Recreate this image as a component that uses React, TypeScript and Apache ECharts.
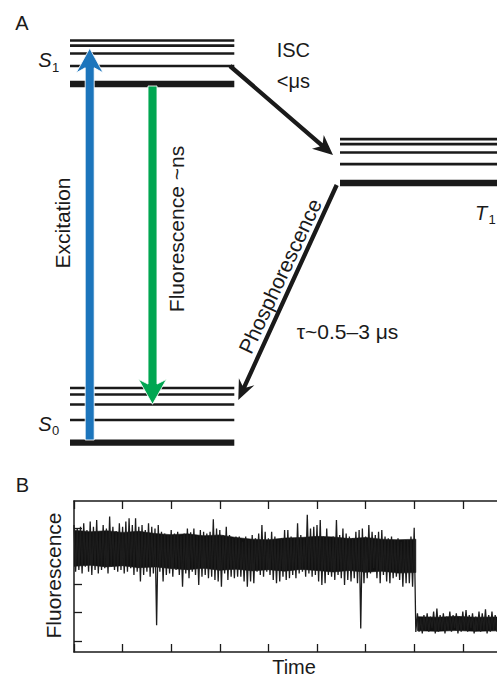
import React, { useEffect, useRef } from "react";
import * as echarts from "echarts";

// ---------- Panel A data (schematic energies, arbitrary units) ----------
const s1Levels = [429.5, 424.3, 416.5, 404, 386];
const s0Levels = [82, 75.5, 65.5, 50, 27.3];
const t1Levels = [330.8, 325.8, 317.5, 305.8, 287];

const transitionNames = ["Excitation", "Fluorescence", "ISC", "Phosphorescence"];
const transitionFrom = [
  [89.7, 30],
  [152.5, 384],
  [230, 404],
  [336.7, 285],
];
const transitionTo = [
  [89.7, 421.7],
  [152.5, 65.7],
  [333, 315],
  [238.3, 70],
];

// ---------- Panel B data (fluorescence trace envelope) ----------
const traceUpper = [
  41.0, 39.8, 40.4, 41.6, 39.2, 42.2, 40.4, 42.8, 38.6, 41.0, 39.8, 44.0, 40.4, 38.9, 41.6, 40.4, 42.2, 43.4, 41.0, 43.4, 40.4, 41.0, 39.2, 41.6, 40.4, 39.8,
  41.0, 38.6, 38.0, 37.5, 39.2, 38.0, 38.6, 37.1, 38.0, 39.8, 38.4, 39.8, 37.5, 39.2, 38.6, 38.0, 38.6, 43.0, 39.8, 39.2, 37.5, 40.4, 37.5, 36.3, 36.9, 36.9,
  35.1, 36.9, 35.7, 37.5, 36.3, 38.0, 41.0, 38.6, 36.3, 38.6, 36.9, 35.7, 36.3, 39.2, 39.2, 36.9, 36.3, 41.6, 37.5, 36.3, 44.6, 39.8, 40.4, 41.0, 42.8, 36.9,
  39.8, 36.3, 36.9, 42.8, 37.5, 39.8, 38.0, 36.9, 36.3, 38.6, 39.2, 39.8, 36.9, 41.0, 38.6, 37.5, 38.6, 39.2, 36.9, 36.3, 36.9, 35.7, 36.3, 35.1, 35.7, 35.7,
  36.9, 40.0,
  9.8, 8.0, 9.2, 9.8, 8.6, 10.4, 11.5, 9.2, 9.8, 8.6, 10.4, 9.2, 9.8, 8.6, 10.4, 10.9, 9.2, 9.8, 8.6, 10.4, 9.8, 11.2, 9.2, 10.4, 9.2,
];
const traceLower = [
  24.5, 25.1, 23.9, 26.3, 24.5, 23.3, 25.1, 23.9, 25.1, 25.7, 23.9, 26.3, 25.1, 24.5, 25.1, 23.9, 24.5, 25.7, 23.3, 24.5, 21.0, 23.3, 24.5, 22.7, 23.9, 5.6,
  24.5, 21.0, 23.3, 23.9, 22.7, 25.1, 23.3, 19.2, 23.9, 22.2, 24.5, 23.3, 19.8, 22.7, 23.3, 22.2, 22.7, 21.6, 21.0, 19.2, 23.9, 21.6, 22.7, 22.2, 22.7, 22.7,
  21.0, 19.2, 21.0, 20.4, 24.5, 23.3, 22.7, 24.5, 23.3, 21.6, 20.4, 21.0, 22.7, 21.6, 22.2, 23.3, 22.2, 23.9, 24.5, 22.7, 23.9, 22.7, 23.3, 21.0, 19.8, 20.4,
  23.3, 22.7, 21.6, 23.3, 22.2, 19.8, 21.6, 21.0, 22.2, 20.4, 4.4, 20.4, 22.2, 23.9, 25.7, 22.2, 20.4, 23.3, 21.0, 20.4, 22.2, 22.7, 21.6, 19.2, 20.4, 20.4,
  19.2, 3.2,
  3.3, 2.7, 3.9, 3.3, 4.5, 2.7, 3.3, 3.9, 2.7, 3.9, 3.3, 4.5, 2.7, 3.3, 3.9, 3.3, 4.5, 2.7, 3.9, 3.3, 3.9, 2.7, 3.3, 3.9, 3.3,
];
// dense (saturated black) core of the trace, read at coarse steps; segment 0 = bright state, 1 = dim state
const coreX = [0, 5, 10, 15, 20, 25, 30, 35, 40, 45, 50, 55, 60, 65, 70, 75, 80, 85, 90, 95, 100, 105.5, 106, 112, 118, 124, 131];
const coreTop = [39.2, 38.6, 39.0, 38.4, 38.8, 38.0, 37.6, 37.9, 37.2, 37.5, 36.6, 36.0, 35.8, 36.4, 36.6, 37.0, 36.8, 36.2, 36.6, 36.0, 35.8, 36.0, 8.6, 8.4, 8.7, 8.4, 8.5];
const coreBottom = [26.4, 26.8, 26.2, 26.6, 25.9, 26.2, 25.6, 25.2, 25.7, 25.0, 25.4, 24.8, 25.2, 24.7, 25.3, 24.9, 24.4, 24.9, 24.3, 24.7, 24.0, 24.2, 3.6, 3.4, 3.7, 3.4, 3.6];
const coreSegment = [0, 0, 0, 0, 0, 0, 0, 0, 0, 0, 0, 0, 0, 0, 0, 0, 0, 0, 0, 0, 0, 0, 1, 1, 1, 1, 1];

const fluorTicks = [0, 10, 20, 30, 40];
const timeTickInterval = 15;

// ---------- styles / layout ----------
const FONT = "'Liberation Sans', Arial, Helvetica, sans-serif";
const INK = "#1a1a1a";
const S_RANGE = [70, 234.3];
const T_RANGE = [340, 560];
const arrowStyles = [
  { color: "#1C75BC", shaft: 9, headLen: 24.5, headWid: 27, notch: 17, outline: true },
  { color: "#00A651", shaft: 9, headLen: 25, headWid: 28, notch: 18, outline: true },
  { color: INK, shaft: 4.3, headLen: 20, headWid: 18, notch: 14, outline: false },
  { color: INK, shaft: 4.3, headLen: 20, headWid: 17, notch: 13, outline: false },
];

function levelRows(levels: number[], range: number[]) {
  return levels.map((e, i) => [range[0], range[1], e, i === levels.length - 1 ? 1 : 0]);
}

function txt(text: string, x: number, y: number, size: number, opts: any = {}) {
  const font = `${opts.italic ? "italic " : ""}${size}px ${FONT}`;
  return {
    type: "text",
    x,
    y,
    rotation: opts.rotation || 0,
    silent: true,
    style: {
      text,
      font,
      fill: INK,
      textAlign: opts.align || "center",
      align: opts.align || "center",
      textVerticalAlign: "middle",
      verticalAlign: "middle",
    },
  };
}

export default function App() {
  const ref = useRef<HTMLDivElement>(null);

  useEffect(() => {
    if (!ref.current) return;
    const chart = echarts.init(ref.current, undefined, { renderer: "svg" });

    const levelData = [
      ...levelRows(s1Levels, S_RANGE),
      ...levelRows(s0Levels, S_RANGE),
      ...levelRows(t1Levels, T_RANGE),
    ];
    const arrowData = transitionFrom.map((f, i) => [f[0], f[1], transitionTo[i][0], transitionTo[i][1]]);

    const traceData: number[][] = [];
    for (let i = 0; i < traceUpper.length; i++) {
      traceData.push([i, traceUpper[i]]);
      traceData.push([i + 0.5, traceLower[i]]);
    }
    const coreData = coreX.map((x, i) => [x, coreTop[i], coreBottom[i], coreSegment[i]]);

    const renderLevel = (params: any, api: any) => {
      const a = api.coord([api.value(0), api.value(2)]);
      const b = api.coord([api.value(1), api.value(2)]);
      const t = api.value(3) ? 6.3 : 2.7;
      return {
        type: "rect",
        shape: { x: a[0], y: a[1] - t / 2, width: b[0] - a[0], height: t },
        style: { fill: INK },
      };
    };

    const renderCore = (params: any, api: any) => {
      const i = params.dataIndex;
      if (i >= coreData.length - 1) return null;
      const a = coreData[i];
      const b = coreData[i + 1];
      if (a[3] !== b[3]) return null;
      const points = [
        api.coord([a[0], a[1]]),
        api.coord([b[0], b[1]]),
        api.coord([b[0], b[2]]),
        api.coord([a[0], a[2]]),
      ];
      return {
        type: "polygon",
        shape: { points },
        style: { fill: "#111", stroke: "#111", lineWidth: 0.6 },
      };
    };

    const renderArrow = (params: any, api: any) => {
      const st = arrowStyles[params.dataIndex];
      const p1 = api.coord([api.value(0), api.value(1)]);
      const p2 = api.coord([api.value(2), api.value(3)]);
      const dx = p2[0] - p1[0];
      const dy = p2[1] - p1[1];
      const len = Math.hypot(dx, dy);
      const ux = dx / len, uy = dy / len;
      const nx = -uy, ny = ux;
      const hw = st.shaft / 2, HW = st.headWid / 2;
      const neck = st.headLen - (st.headLen - st.notch) * (1 - st.shaft / st.headWid);
      const pt = (d: number, o: number) => [p2[0] - ux * d + nx * o, p2[1] - uy * d + ny * o];
      const points = [
        [p1[0] + nx * hw, p1[1] + ny * hw],
        pt(neck, hw),
        pt(st.headLen, HW),
        [p2[0], p2[1]],
        pt(st.headLen, -HW),
        pt(neck, -hw),
        [p1[0] - nx * hw, p1[1] - ny * hw],
      ];
      return {
        type: "polygon",
        shape: { points },
        style: {
          fill: st.color,
          stroke: st.outline ? "rgba(255,255,255,0.85)" : null,
          lineWidth: st.outline ? 1 : 0,
        },
      };
    };

    const boxAxis = {
      axisLine: { show: true, onZero: false, lineStyle: { color: INK, width: 1.5 } },
      axisTick: { show: true, inside: true, length: 8, lineStyle: { color: INK, width: 1.3 } },
      axisLabel: { show: false },
      splitLine: { show: false },
    };

    chart.setOption({
      animation: false,
      textStyle: { fontFamily: FONT },
      grid: [
        { left: 0, top: 0, width: 497, height: 470 },
        { left: 74, top: 501, width: 453.6, height: 151 },
      ],
      xAxis: [
        { gridIndex: 0, type: "value", min: 0, max: 497, show: false },
        { gridIndex: 1, type: "value", min: 0, max: 140, interval: timeTickInterval, position: "bottom", ...boxAxis },
        { gridIndex: 1, type: "value", min: 0, max: 140, interval: timeTickInterval, position: "top", ...boxAxis },
      ],
      yAxis: [
        { gridIndex: 0, type: "value", min: 0, max: 470, show: false },
        {
          gridIndex: 1,
          type: "value",
          min: -3.9,
          max: 49.5,
          ...boxAxis,
          axisTick: { ...boxAxis.axisTick, customValues: fluorTicks },
          axisLabel: { show: false, customValues: fluorTicks },
        },
      ],
      series: [
        {
          type: "custom",
          name: "levels",
          xAxisIndex: 0,
          yAxisIndex: 0,
          data: levelData,
          renderItem: renderLevel,
          silent: true,
          z: 1,
        },
        {
          type: "custom",
          name: "transitions",
          xAxisIndex: 0,
          yAxisIndex: 0,
          data: arrowData.map((d, i) => ({ value: d, name: transitionNames[i] })),
          renderItem: renderArrow,
          silent: true,
          z: 3,
        },
        {
          type: "custom",
          name: "trace core",
          xAxisIndex: 1,
          yAxisIndex: 1,
          data: coreData,
          renderItem: renderCore,
          clip: true,
          silent: true,
          z: 2,
        },
        {
          type: "line",
          name: "Fluorescence",
          xAxisIndex: 1,
          yAxisIndex: 1,
          data: traceData,
          showSymbol: false,
          symbol: "none",
          lineStyle: { color: "#1c1c1c", width: 1.3 },
          silent: true,
          z: 2,
        },
      ],
      graphic: [
        txt("A", 22, 23, 20),
        txt("B", 22.5, 485, 20),
        txt("S", 44.8, 60, 20, { italic: true }),
        txt("1", 55.5, 67.5, 13),
        txt("S", 45, 424, 20, { italic: true }),
        txt("0", 55.5, 430.5, 13),
        txt("T", 481, 213, 20, { italic: true }),
        txt("1", 492, 219.5, 13),
        txt("ISC", 276.7, 49.5, 20, { align: "left" }),
        txt("<μs", 276.7, 81, 20, { align: "left" }),
        txt("Excitation", 62, 223, 21, { rotation: Math.PI / 2 }),
        txt("Fluorescence ~ns", 176.5, 229, 21, { rotation: Math.PI / 2 }),
        txt("Phosphorescence", 280, 276, 21, { rotation: (65 * Math.PI) / 180 }),
        txt("τ~0.5–3 μs", 296.7, 331.7, 21, { align: "left" }),
        txt("Fluorescence", 53.5, 575.5, 21, { rotation: Math.PI / 2 }),
        txt("Time", 294, 666.5, 20),
      ],
    });

    return () => chart.dispose();
  }, []);

  return (
    <div
      style={{
        position: "absolute",
        left: 0,
        top: 0,
        width: 497,
        height: 677,
        overflow: "hidden",
        background: "#fff",
      }}
    >
      <div ref={ref} style={{ width: 540, height: 677 }} />
    </div>
  );
}
